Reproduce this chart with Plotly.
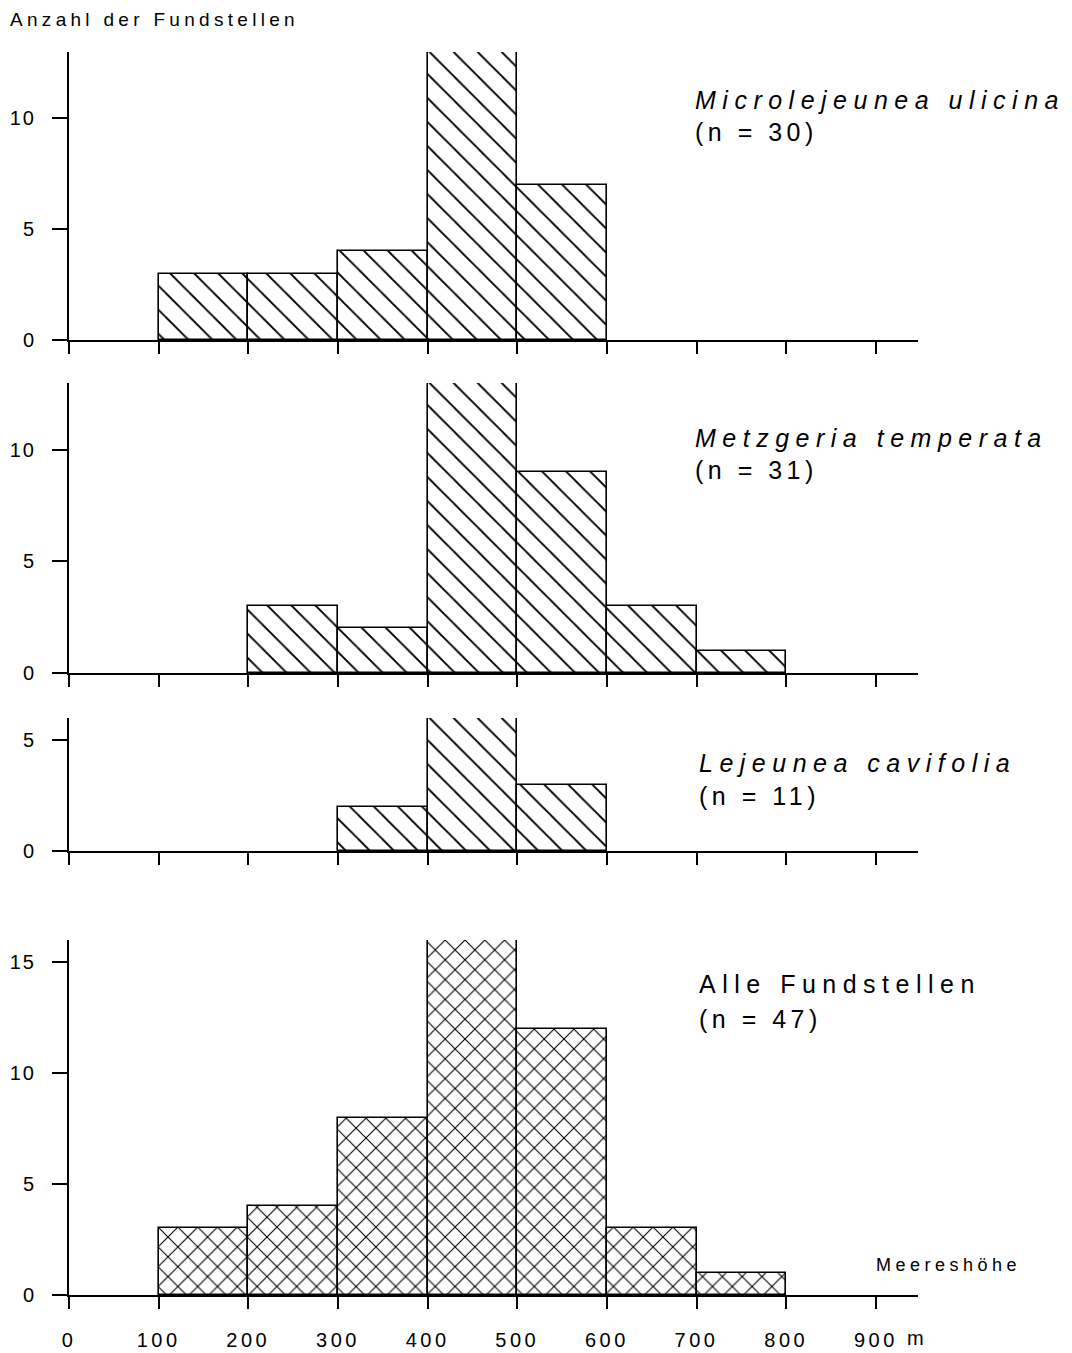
import plotly.graph_objects as go

# ---- data ----
bin_left = [0, 100, 200, 300, 400, 500, 600, 700, 800]
micro = [0, 3, 3, 4, 13, 7, 0, 0, 0]
metz = [0, 0, 3, 2, 13, 9, 3, 1, 0]
leje = [0, 0, 0, 2, 6, 3, 0, 0, 0]
alle = [0, 3, 4, 8, 16, 12, 3, 1, 0]
panel_titles = ["Microlejeunea ulicina", "Metzgeria temperata", "Lejeunea cavifolia", "Alle Fundstellen"]
panel_n = ["(n = 30)", "(n = 31)", "(n = 11)", "(n = 47)"]
x_ticks = [0, 100, 200, 300, 400, 500, 600, 700, 800, 900]
x_ticklabels = ["0", "100", "200", "300", "400", "500", "600", "700", "800", "900"]
y_ticks = [[0, 5, 10], [0, 5, 10], [0, 5], [0, 5, 10, 15]]
y_tops = [13, 13, 6, 16]

FONT = "Liberation Sans, Arial, Helvetica, sans-serif"
W, H = 1072, 1353
ML, MR, MT, MB = 69, 154, 52, 58
PW, PH = W - ML - MR, H - MT - MB

def py2paper(py):
    return (H - MB - py) / PH

def px2paper(px):
    return (px - ML) / PW

def ls(text, sp):
    return f'<span style="letter-spacing:{sp}px">{text}</span>'

# panel pixel extents (top, bottom)
panels_px = [(52, 340), (383, 673), (718, 851), (940, 1295)]
series = [micro, metz, leje, alle]
shapes = ["\\", "\\", "\\", "x"]
psize = [17, 17, 17, 14]
psol = [0.11, 0.11, 0.11, 0.15]

fig = go.Figure()
centers = [b + 50 for b in bin_left]
for i, vals in enumerate(series):
    xs = [c for c, v in zip(centers, vals) if v > 0]
    ys = [v for v in vals if v > 0]
    suffix = "" if i == 0 else str(i + 1)
    fig.add_trace(go.Bar(
        x=xs, y=ys, width=100,
        xaxis="x" + suffix, yaxis="y" + suffix,
        marker=dict(color="white", line=dict(color="black", width=1.6),
                    pattern=dict(shape=shapes[i], fgcolor="#000000", bgcolor="white",
                                 fgopacity=1, size=psize[i], solidity=psol[i])),
        showlegend=False, hoverinfo="skip"))

layout = dict(
    width=W, height=H, margin=dict(l=ML, r=MR, t=MT, b=MB, autoexpand=False),
    paper_bgcolor="white", plot_bgcolor="white",
    font=dict(family=FONT, color="black", size=18),
    bargap=0,
)
for i in range(4):
    top, bot = panels_px[i]
    suffix = "" if i == 0 else str(i + 1)
    ydom = [max(0, py2paper(bot)), min(1, py2paper(top))]
    last = (i == 3)
    layout["xaxis" + suffix] = dict(
        domain=[0, 1], range=[0, 947], anchor="y" + suffix, automargin=False,
        showline=True, linecolor="black", linewidth=2,
        ticks="outside", ticklen=12, tickwidth=2, tickcolor="black",
        tickvals=x_ticks,
        ticktext=[ls(t, 3.5) for t in x_ticklabels] if last else [""] * len(x_ticks),
        showticklabels=last, showgrid=False, zeroline=False,
        ticklabelstandoff=14, tickfont=dict(size=20),
    )
    layout["yaxis" + suffix] = dict(
        domain=ydom, range=[0, y_tops[i]], anchor="x" + suffix, automargin=False,
        showline=True, linecolor="black", linewidth=2,
        ticks="outside", ticklen=15, tickwidth=2, tickcolor="black",
        tickvals=y_ticks[i], ticktext=[ls(str(t), 2) for t in y_ticks[i]],
        showgrid=False, zeroline=False, ticklabelstandoff=12,
        tickfont=dict(size=20),
    )
fig.update_layout(**layout)

ann = []
ann.append(dict(text=ls("Anzahl der Fundstellen", 4.3), x=px2paper(8), y=py2paper(20),
                xref="paper", yref="paper", xanchor="left", yanchor="middle",
                showarrow=False, font=dict(size=19)))
title_px = [(693, 100, 132), (693, 438, 470), (697, 763, 796), (697, 984, 1019)]
for i in range(4):
    x0, y1, y2 = title_px[i]
    t = panel_titles[i]
    t = ls(f"<i>{t}</i>", 6.5) if i < 3 else ls(t, 6.5)
    ann.append(dict(text=t, x=px2paper(x0), y=py2paper(y1), xref="paper", yref="paper",
                    xanchor="left", yanchor="middle", showarrow=False, font=dict(size=25)))
    ann.append(dict(text=ls(panel_n[i], 4.5), x=px2paper(x0), y=py2paper(y2), xref="paper", yref="paper",
                    xanchor="left", yanchor="middle", showarrow=False, font=dict(size=25)))
ann.append(dict(text=ls("Meereshöhe", 4.5), x=px2paper(874), y=py2paper(1265), xref="paper", yref="paper",
                xanchor="left", yanchor="middle", showarrow=False, font=dict(size=18)))
ann.append(dict(text="m", x=px2paper(905), y=py2paper(1338), xref="paper", yref="paper",
                xanchor="left", yanchor="middle", showarrow=False, font=dict(size=20)))
fig.update_layout(annotations=ann)

fig.write_html("out.html", config={"displayModeBar": False},
               post_script="document.body.style.margin='0px';document.body.style.overflow='hidden';")
